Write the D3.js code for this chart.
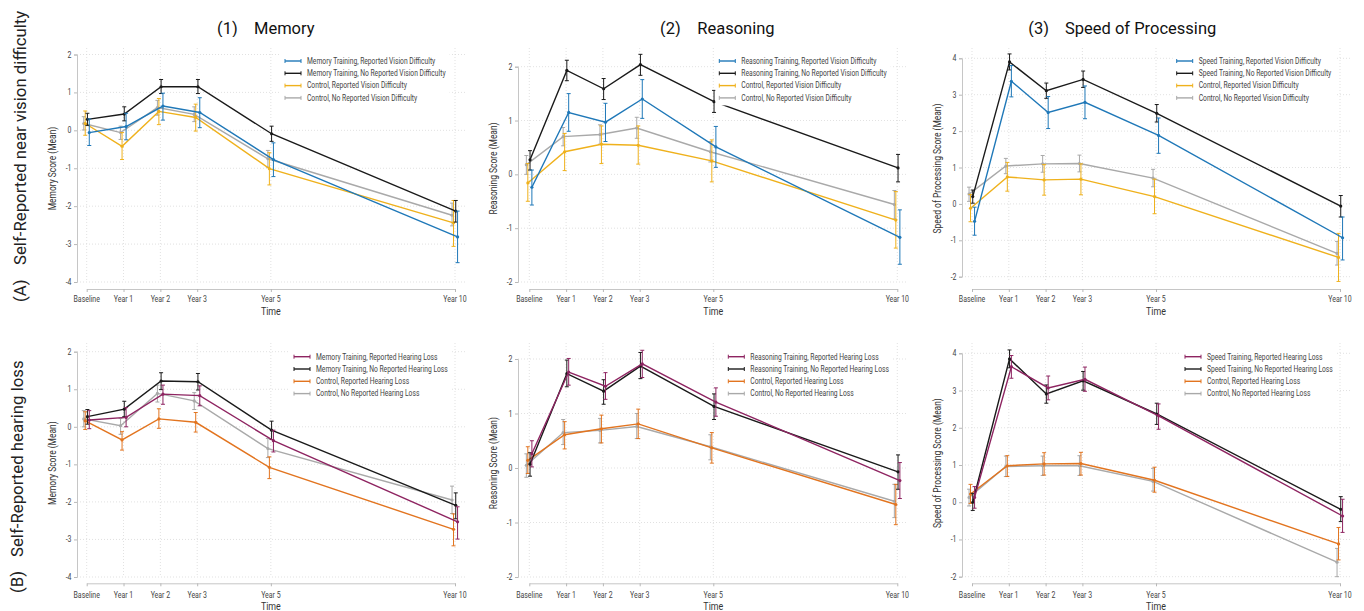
<!DOCTYPE html>
<html>
<head>
<meta charset="utf-8">
<script src="https://cdn.jsdelivr.net/npm/d3@7"></script>
<style>
body { margin: 0; background: #fff; }
svg text { font-family: Roboto, "Liberation Sans", sans-serif; }
</style>
</head>
<body>
<svg id="chart" width="1364" height="611"></svg>
<script>
'use strict';

const timeLabels = ["Baseline", "Year 1", "Year 2", "Year 3", "Year 5", "Year 10"];
const timeYears = [0, 1, 2, 3, 5, 10];

// each entry: [mean, lower CI, upper CI] for Baseline, Y1, Y2, Y3, Y5, Y10
const memVisTrainRep = [[-0.06,-0.40,0.30],[0.10,-0.25,0.45],[0.64,0.27,0.98],[0.47,0.07,0.86],[-0.77,-1.22,-0.33],[-2.81,-3.49,-2.13]];
const memVisTrainNo  = [[0.29,0.13,0.45],[0.43,0.25,0.62],[1.15,0.97,1.34],[1.15,0.97,1.34],[-0.09,-0.29,0.11],[-2.13,-2.42,-1.85]];
const memVisCtrlRep  = [[0.18,-0.13,0.51],[-0.42,-0.77,-0.06],[0.50,0.15,0.84],[0.34,-0.02,0.69],[-1.01,-1.44,-0.59],[-2.44,-3.06,-1.85]];
const memVisCtrlNo   = [[0.18,0.01,0.36],[-0.06,-0.24,0.11],[0.60,0.40,0.79],[0.42,0.23,0.62],[-0.75,-0.97,-0.53],[-2.24,-2.52,-1.92]];

const reaVisTrainRep = [[-0.24,-0.57,0.08],[1.15,0.80,1.50],[0.97,0.61,1.32],[1.40,1.04,1.76],[0.51,0.13,0.89],[-1.17,-1.67,-0.66]];
const reaVisTrainNo  = [[0.27,0.08,0.44],[1.93,1.74,2.12],[1.59,1.39,1.78],[2.04,1.84,2.23],[1.35,1.15,1.56],[0.12,-0.14,0.37]];
const reaVisCtrlRep  = [[-0.16,-0.50,0.20],[0.42,0.07,0.76],[0.56,0.20,0.90],[0.54,0.19,0.90],[0.25,-0.14,0.64],[-0.85,-1.37,-0.32]];
const reaVisCtrlNo   = [[0.18,0.00,0.35],[0.70,0.53,0.87],[0.74,0.56,0.92],[0.86,0.67,1.06],[0.42,0.23,0.61],[-0.56,-0.83,-0.30]];

const spdVisTrainRep = [[-0.48,-0.86,-0.09],[3.37,2.94,3.80],[2.51,2.07,2.95],[2.79,2.34,3.24],[1.88,1.39,2.36],[-0.93,-1.54,-0.36]];
const spdVisTrainNo  = [[0.20,0.02,0.38],[3.90,3.68,4.12],[3.11,2.90,3.32],[3.42,3.20,3.65],[2.49,2.25,2.73],[-0.06,-0.36,0.23]];
const spdVisCtrlRep  = [[-0.12,-0.49,0.26],[0.74,0.35,1.14],[0.66,0.24,1.08],[0.68,0.25,1.10],[0.20,-0.27,0.68],[-1.47,-2.13,-0.81]];
const spdVisCtrlNo   = [[0.27,0.07,0.46],[1.04,0.83,1.25],[1.10,0.87,1.33],[1.11,0.88,1.34],[0.71,0.47,0.95],[-1.36,-1.68,-1.03]];

const memHearTrainRep = [[0.18,-0.05,0.43],[0.25,0.00,0.51],[0.87,0.60,1.11],[0.83,0.56,1.09],[-0.37,-0.67,-0.09],[-2.53,-2.99,-2.13]];
const memHearTrainNo  = [[0.27,0.07,0.46],[0.47,0.27,0.68],[1.22,0.99,1.44],[1.20,0.98,1.42],[-0.09,-0.34,0.15],[-2.09,-2.45,-1.76]];
const memHearCtrlRep  = [[0.16,-0.07,0.40],[-0.35,-0.62,-0.13],[0.21,-0.04,0.48],[0.12,-0.14,0.38],[-1.08,-1.38,-0.80],[-2.73,-3.17,-2.32]];
const memHearCtrlNo   = [[0.21,0.00,0.43],[0.03,-0.20,0.22],[0.89,0.66,1.11],[0.69,0.46,0.91],[-0.58,-0.82,-0.31],[-1.95,-2.31,-1.58]];

const reaHearTrainRep = [[0.26,0.02,0.50],[1.76,1.52,2.01],[1.50,1.26,1.75],[1.91,1.66,2.16],[1.21,0.95,1.47],[-0.23,-0.56,0.10]];
const reaHearTrainNo  = [[0.07,-0.15,0.28],[1.73,1.49,1.98],[1.41,1.17,1.62],[1.87,1.64,2.12],[1.13,0.89,1.36],[-0.07,-0.39,0.24]];
const reaHearCtrlRep  = [[0.14,-0.10,0.39],[0.61,0.35,0.85],[0.72,0.46,0.97],[0.81,0.54,1.08],[0.37,0.09,0.65],[-0.67,-1.04,-0.30]];
const reaHearCtrlNo   = [[0.05,-0.17,0.26],[0.65,0.43,0.89],[0.69,0.46,0.91],[0.76,0.54,1.00],[0.39,0.15,0.61],[-0.61,-0.91,-0.30]];

const spdHearTrainRep = [[0.13,-0.16,0.42],[3.64,3.33,3.94],[3.07,2.75,3.39],[3.30,2.98,3.63],[2.32,1.96,2.64],[-0.37,-0.81,0.08]];
const spdHearTrainNo  = [[0.00,-0.22,0.24],[3.85,3.61,4.09],[2.91,2.66,3.15],[3.26,3.01,3.51],[2.37,2.09,2.66],[-0.19,-0.52,0.15]];
const spdHearCtrlRep  = [[0.22,-0.03,0.48],[0.98,0.69,1.25],[1.03,0.73,1.33],[1.04,0.73,1.34],[0.59,0.27,0.94],[-1.12,-1.55,-0.68]];
const spdHearCtrlNo   = [[0.13,-0.10,0.35],[0.96,0.69,1.24],[0.98,0.72,1.24],[0.98,0.72,1.25],[0.56,0.30,0.91],[-1.61,-2.00,-1.24]];

const visNames = ["Reported Vision Difficulty", "No Reported Vision Difficulty"];
const hearNames = ["Reported Hearing Loss", "No Reported Hearing Loss"];
const domainNames = ["Memory", "Reasoning", "Speed"];
const titles = ["Memory", "Reasoning", "Speed of Processing"];
const yLabels = ["Memory Score (Mean)", "Reasoning Score (Mean)", "Speed of Processing Score (Mean)"];
const rowLabels = ["Self-Reported near vision difficulty", "Self-Reported hearing loss"];

// styles / layout
const visColors = ["#1f78b8", "#1a1a1a", "#efb11c", "#a9a9a9"];
const hearColors = ["#8e2461", "#1a1a1a", "#e2741f", "#a9a9a9"];
const dodge = [0.07, 0.02, -0.04, -0.08];   // horizontal offset (years) per series
const cols = [
  {axisX: 77,  x0: 86.7,  x10: 455,    right: 466,  titleX: [217, 254],      legX: [285, 294]},
  {axisX: 518, x0: 529.3, x10: 897.3,  right: 908,  titleX: [660, 697.3],    legX: [719.3, 728.3]},
  {axisX: 962, x0: 972,   x10: 1340,   right: 1351, titleX: [1028.3, 1065],  legX: [1176.7, 1185]}
];
const rows = [
  {top: 48,  bottom: 282, axisY: 289,   tickY: 301.5, timeY: 314.5, legY: 61,    labX: 26,
   yr: [[54.5, 282], [66.7, 282], [58.3, 276.7]], labPos: [302, 265]},
  {top: 343, bottom: 577, axisY: 583.3, tickY: 597.5, timeY: 610,   legY: 356.7, labX: 22.5,
   yr: [[351.7, 577], [359, 577], [353.3, 576.7]], labPos: [593, 557]}
];
const yDomains = [[2, -4], [2, -2], [4, -2]];

const panelSeries = [
  [[memVisTrainRep, memVisTrainNo, memVisCtrlRep, memVisCtrlNo],
   [reaVisTrainRep, reaVisTrainNo, reaVisCtrlRep, reaVisCtrlNo],
   [spdVisTrainRep, spdVisTrainNo, spdVisCtrlRep, spdVisCtrlNo]],
  [[memHearTrainRep, memHearTrainNo, memHearCtrlRep, memHearCtrlNo],
   [reaHearTrainRep, reaHearTrainNo, reaHearCtrlRep, reaHearCtrlNo],
   [spdHearTrainRep, spdHearTrainNo, spdHearCtrlRep, spdHearCtrlNo]]
];

const svg = d3.select("#chart");
const SQ = 0.82; // horizontal squeeze for the narrow stata font

function narrowText(sel, x, y, str, size, anchor, rotate) {
  let tr = "translate(" + x + "," + y + ")" + (rotate ? " rotate(-90)" : "") + " scale(" + SQ + ",1)";
  return sel.append("text")
    .attr("transform", tr)
    .attr("font-size", size)
    .attr("text-anchor", anchor)
    .text(str);
}

svg.append("clipPath").attr("id", "titleClip")
  .append("rect").attr("x", 0).attr("y", 0).attr("width", 1364).attr("height", 37);

// row labels
rows.forEach(function (r, ri) {
  let lab = ["(A)", "(B)"][ri];
  [lab, rowLabels[ri]].forEach(function (s, k) {
    svg.append("text")
      .attr("transform", "translate(" + r.labX + "," + r.labPos[k] + ") rotate(-90)")
      .attr("font-family", "'Liberation Sans', Arial, sans-serif")
      .attr("font-size", 16.8)
      .attr("fill", "#222")
      .text(s);
  });
});

// titles
cols.forEach(function (c, ci) {
  let t = svg.append("g").attr("clip-path", "url(#titleClip)");
  ["(" + (ci + 1) + ")", titles[ci]].forEach(function (s, k) {
    t.append("text")
      .attr("x", c.titleX[k]).attr("y", 33.5)
      .attr("font-family", "'Liberation Sans', Arial, sans-serif")
      .attr("font-size", 16.5)
      .attr("fill", "#111")
      .text(s);
  });
});

rows.forEach(function (r, ri) {
  cols.forEach(function (c, ci) {
    let g = svg.append("g");
    let x = d3.scaleLinear().domain([0, 10]).range([c.x0, c.x10]);
    let y = d3.scaleLinear().domain(yDomains[ci]).range(r.yr[ci]);
    let yTicks = d3.range(yDomains[ci][1], yDomains[ci][0] + 1);
    let colors = ri === 0 ? visColors : hearColors;
    let names = ri === 0 ? visNames : hearNames;
    let series = panelSeries[ri][ci];

    // grid
    g.selectAll(".hgrid").data(yTicks).enter().append("line")
      .attr("x1", c.axisX).attr("x2", c.right)
      .attr("y1", d => y(d)).attr("y2", d => y(d))
      .attr("stroke", "#d9d9d9").attr("stroke-width", 0.8).attr("stroke-dasharray", "1,2");
    g.selectAll(".vgrid").data(timeYears).enter().append("line")
      .attr("x1", d => x(d)).attr("x2", d => x(d))
      .attr("y1", r.top).attr("y2", r.bottom)
      .attr("stroke", "#d9d9d9").attr("stroke-width", 0.8).attr("stroke-dasharray", "1,2");

    // y axis
    let ya = g.append("g").attr("transform", "translate(" + c.axisX + ",0)")
      .call(d3.axisLeft(y).tickValues(yTicks).tickSize(3).tickPadding(3).tickFormat(d3.format("d")));
    ya.select(".domain").attr("stroke", "#c6c6c6");
    ya.selectAll(".tick line").attr("stroke", "#b8b8b8");
    ya.selectAll(".tick text").remove();
    yTicks.forEach(function (v) {
      narrowText(g, c.axisX - 5.5, y(v) + 3, String(v), 8.5, "end", false).attr("fill", "#444");
    });
    narrowText(g, c.axisX - 21, (r.top + r.axisY) / 2, yLabels[ci], 10.3, "middle", true).attr("fill", "#333");

    // x axis
    let xa = g.append("g").attr("transform", "translate(0," + r.axisY + ")")
      .call(d3.axisBottom(x).tickValues(timeYears).tickSize(3).tickSizeOuter(0));
    xa.select(".domain").attr("stroke", "#c6c6c6");
    xa.selectAll(".tick line").attr("stroke", "#b8b8b8");
    xa.selectAll(".tick text").remove();
    timeYears.forEach(function (t, i) {
      narrowText(g, x(t), r.tickY, timeLabels[i], 8.5, "middle", false).attr("fill", "#444");
    });
    narrowText(g, (c.x0 + c.x10) / 2, r.timeY, "Time", 10.8, "middle", false).attr("fill", "#333");

    // series, drawn from last to first so the training series sit on top
    for (let s = 3; s >= 0; s--) {
      let pts = series[s].map((d, i) => ({t: timeYears[i] + dodge[s], m: d[0], lo: d[1], hi: d[2]}));
      let sg = g.append("g");
      sg.append("path").datum(pts)
        .attr("fill", "none").attr("stroke", colors[s]).attr("stroke-width", 1.4)
        .attr("d", d3.line().x(d => x(d.t)).y(d => y(d.m)));
      sg.selectAll(".eb").data(pts).enter().append("line")
        .attr("x1", d => x(d.t)).attr("x2", d => x(d.t))
        .attr("y1", d => y(d.lo)).attr("y2", d => y(d.hi))
        .attr("stroke", colors[s]).attr("stroke-width", 1);
      ["lo", "hi"].forEach(function (k) {
        sg.selectAll(".cap" + k).data(pts).enter().append("line")
          .attr("x1", d => x(d.t) - 2).attr("x2", d => x(d.t) + 2)
          .attr("y1", d => y(d[k])).attr("y2", d => y(d[k]))
          .attr("stroke", colors[s]).attr("stroke-width", 1);
      });
      sg.selectAll(".pt").data(pts).enter().append("circle")
        .attr("cx", d => x(d.t)).attr("cy", d => y(d.m)).attr("r", 1.6)
        .attr("fill", colors[s]);
    }

    // legend
    let lx = c.legX[ri], ly = r.legY, step = 12.3;
    let labels = [
      domainNames[ci] + " Training, " + names[0],
      domainNames[ci] + " Training, " + names[1],
      "Control, " + names[0],
      "Control, " + names[1]
    ];
    let lg = g.append("g");
    let bg = lg.append("rect").attr("fill", "#fff");
    let maxW = 0;
    labels.forEach(function (lab, i) {
      let yy = ly + i * step;
      lg.append("line").attr("x1", lx).attr("x2", lx + 16).attr("y1", yy).attr("y2", yy)
        .attr("stroke", colors[i]).attr("stroke-width", 1.4);
      [lx, lx + 16].forEach(function (cx) {
        lg.append("line").attr("x1", cx).attr("x2", cx).attr("y1", yy - 2).attr("y2", yy + 2)
          .attr("stroke", colors[i]).attr("stroke-width", 1);
      });
      let tx = narrowText(lg, lx + 22, yy + 2.8, lab, 8.2, "start", false).attr("fill", "#444");
      maxW = Math.max(maxW, tx.node().getComputedTextLength() * SQ);
    });
    bg.attr("x", lx - 4).attr("y", ly - 7)
      .attr("width", 22 + maxW + 8).attr("height", 3 * step + 14.5);
  });
});
</script>
</body>
</html>
